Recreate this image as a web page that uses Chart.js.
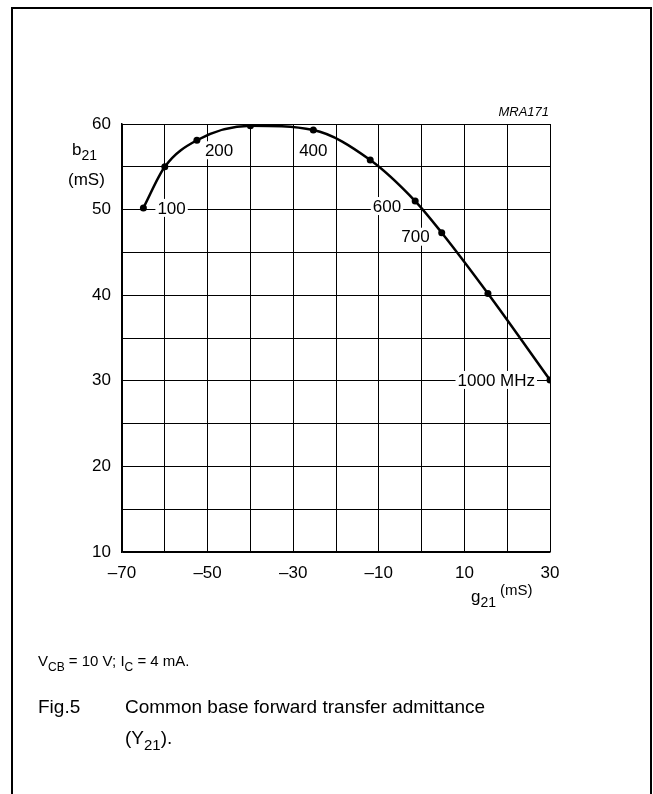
<!DOCTYPE html>
<html>
<head>
<meta charset="utf-8">
<script src="https://cdn.jsdelivr.net/npm/chart.js@4"></script>
<style>
  html, body { margin: 0; padding: 0; background: #fff; }
  #wrap { width: 653px; height: 794px; position: relative; }
</style>
</head>
<body>
<div id="wrap"><canvas id="admittanceChart"></canvas></div>
<script>
// g21 / b21 (mS), frequency marks in MHz
const g21 = [-65, -60, -52.5, -40, -25.3, -12, -1.5, 4.7, 15.5, 30];
const b21 = [50.2, 55, 58.1, 59.8, 59.3, 55.8, 51, 47.3, 40.2, 30.1];
const freqLabels = ['100', '', '200', '', '400', '', '600', '700', '', '1000 MHz'];
const xTicks = [-70, -50, -30, -10, 10, 30];
const yTicks = [10, 20, 30, 40, 50, 60];

const FONT = "'Liberation Sans', Arial, sans-serif";

// where each frequency label sits relative to its point
const labelPlace = {
  0: { dx: 14, dy: 0, align: 'left' },
  2: { dx: 8, dy: 10, align: 'left' },
  4: { dx: 0, dy: 20, align: 'center' },
  6: { dx: -14, dy: 5, align: 'right' },
  7: { dx: -12, dy: 4, align: 'right' },
  9: { dx: -15, dy: 0, align: 'right' },
};

function subText(ctx, x, y, base, sub, size) {
  ctx.font = size + 'px ' + FONT;
  const w1 = ctx.measureText(base).width;
  ctx.textAlign = 'left';
  ctx.textBaseline = 'alphabetic';
  ctx.fillText(base, x, y);
  ctx.font = Math.round(size * 0.8) + 'px ' + FONT;
  const w2 = ctx.measureText(sub).width;
  ctx.fillText(sub, x + w1, y + size * 0.3);
  return x + w1 + w2;
}

const labelsPlugin = {
  id: 'freqLabels',
  beforeDatasetsDraw(chart) {
    const { ctx } = chart;
    const meta = chart.getDatasetMeta(0);
    ctx.save();
    ctx.font = '17px ' + FONT;
    ctx.textBaseline = 'middle';
    freqLabels.forEach((txt, i) => {
      if (!txt) return;
      const p = meta.data[i];
      const pl = labelPlace[i];
      const w = ctx.measureText(txt).width;
      const x = p.x + pl.dx;
      const y = p.y + pl.dy;
      let left = x;
      if (pl.align === 'right') left = x - w;
      if (pl.align === 'center') left = x - w / 2;
      ctx.fillStyle = '#fff';
      ctx.fillRect(left - 2, y - 9, w + 4, 18);
      ctx.fillStyle = '#000';
      ctx.textAlign = 'left';
      ctx.fillText(txt, left, y + 1);
    });
    ctx.restore();
  },
  afterDraw(chart) {
    const { ctx } = chart;
    ctx.save();
    ctx.fillStyle = '#000';
    ctx.strokeStyle = '#000';

    // frame
    ctx.lineWidth = 2;
    ctx.beginPath();
    ctx.moveTo(12, 800);
    ctx.lineTo(12, 8);
    ctx.lineTo(651, 8);
    ctx.lineTo(651, 800);
    ctx.stroke();

    // MRA171
    ctx.font = 'italic 13px ' + FONT;
    ctx.textAlign = 'right';
    ctx.textBaseline = 'alphabetic';
    ctx.fillText('MRA171', 549, 116);

    // y axis title
    subText(ctx, 72, 155, 'b', '21', 17);
    ctx.font = '17px ' + FONT;
    ctx.textAlign = 'left';
    ctx.fillText('(mS)', 68, 185);

    // x axis title
    const end = subText(ctx, 471, 602, 'g', '21', 17);
    ctx.font = '15px ' + FONT;
    ctx.textAlign = 'left';
    ctx.fillText('(mS)', end + 4, 595);

    // conditions
    let xx = subText(ctx, 38, 666, 'V', 'CB', 15);
    ctx.font = '15px ' + FONT;
    ctx.fillText(' = 10 V; I', xx, 666);
    xx += ctx.measureText(' = 10 V; I').width;
    xx = subText(ctx, xx, 666, '', 'C', 15);
    ctx.font = '15px ' + FONT;
    ctx.fillText(' = 4 mA.', xx, 666);

    // caption
    ctx.font = '19px ' + FONT;
    ctx.fillText('Fig.5', 38, 713);
    ctx.fillText('Common base forward transfer admittance', 125, 713);
    xx = subText(ctx, 125, 744, '(Y', '21', 19);
    ctx.font = '19px ' + FONT;
    ctx.fillText(').', xx, 744);

    ctx.restore();
  },
};

const ctx = document.getElementById('admittanceChart').getContext('2d');
new Chart(ctx, {
  type: 'line',
  data: {
    datasets: [{
      data: g21.map((g, i) => ({ x: g, y: b21[i] })),
      borderColor: '#000',
      borderWidth: 2.5,
      backgroundColor: '#000',
      pointRadius: 3.5,
      pointBackgroundColor: '#000',
      pointBorderWidth: 0,
      cubicInterpolationMode: 'monotone',
      fill: false,
    }],
  },
  options: {
    responsive: true,
    maintainAspectRatio: false,
    animation: false,
    layout: {
      padding: { top: 124, left: 0, right: 103, bottom: 192 },
    },
    plugins: {
      legend: { display: false },
      tooltip: { enabled: false },
    },
    scales: {
      x: {
        type: 'linear',
        min: -70,
        max: 30,
        afterFit(scale) { scale.height = 50; },
        grid: { color: '#000', lineWidth: 1, drawTicks: false },
        border: { color: '#000', width: 1.5 },
        ticks: {
          stepSize: 10,
          padding: 11,
          color: '#000',
          font: { family: FONT, size: 17 },
          maxRotation: 0,
          autoSkip: false,
          callback: v => xTicks.includes(v) ? String(v).replace('-', '\u2013') : '',
        },
      },
      y: {
        type: 'linear',
        min: 10,
        max: 60,
        afterFit(scale) { scale.width = 122; },
        grid: { color: '#000', lineWidth: 1, drawTicks: false },
        border: { color: '#000', width: 1.5 },
        ticks: {
          stepSize: 5,
          padding: 11,
          color: '#000',
          font: { family: FONT, size: 17 },
          autoSkip: false,
          callback: v => yTicks.includes(v) ? String(v) : '',
        },
      },
    },
  },
  plugins: [labelsPlugin],
});
</script>
</body>
</html>
